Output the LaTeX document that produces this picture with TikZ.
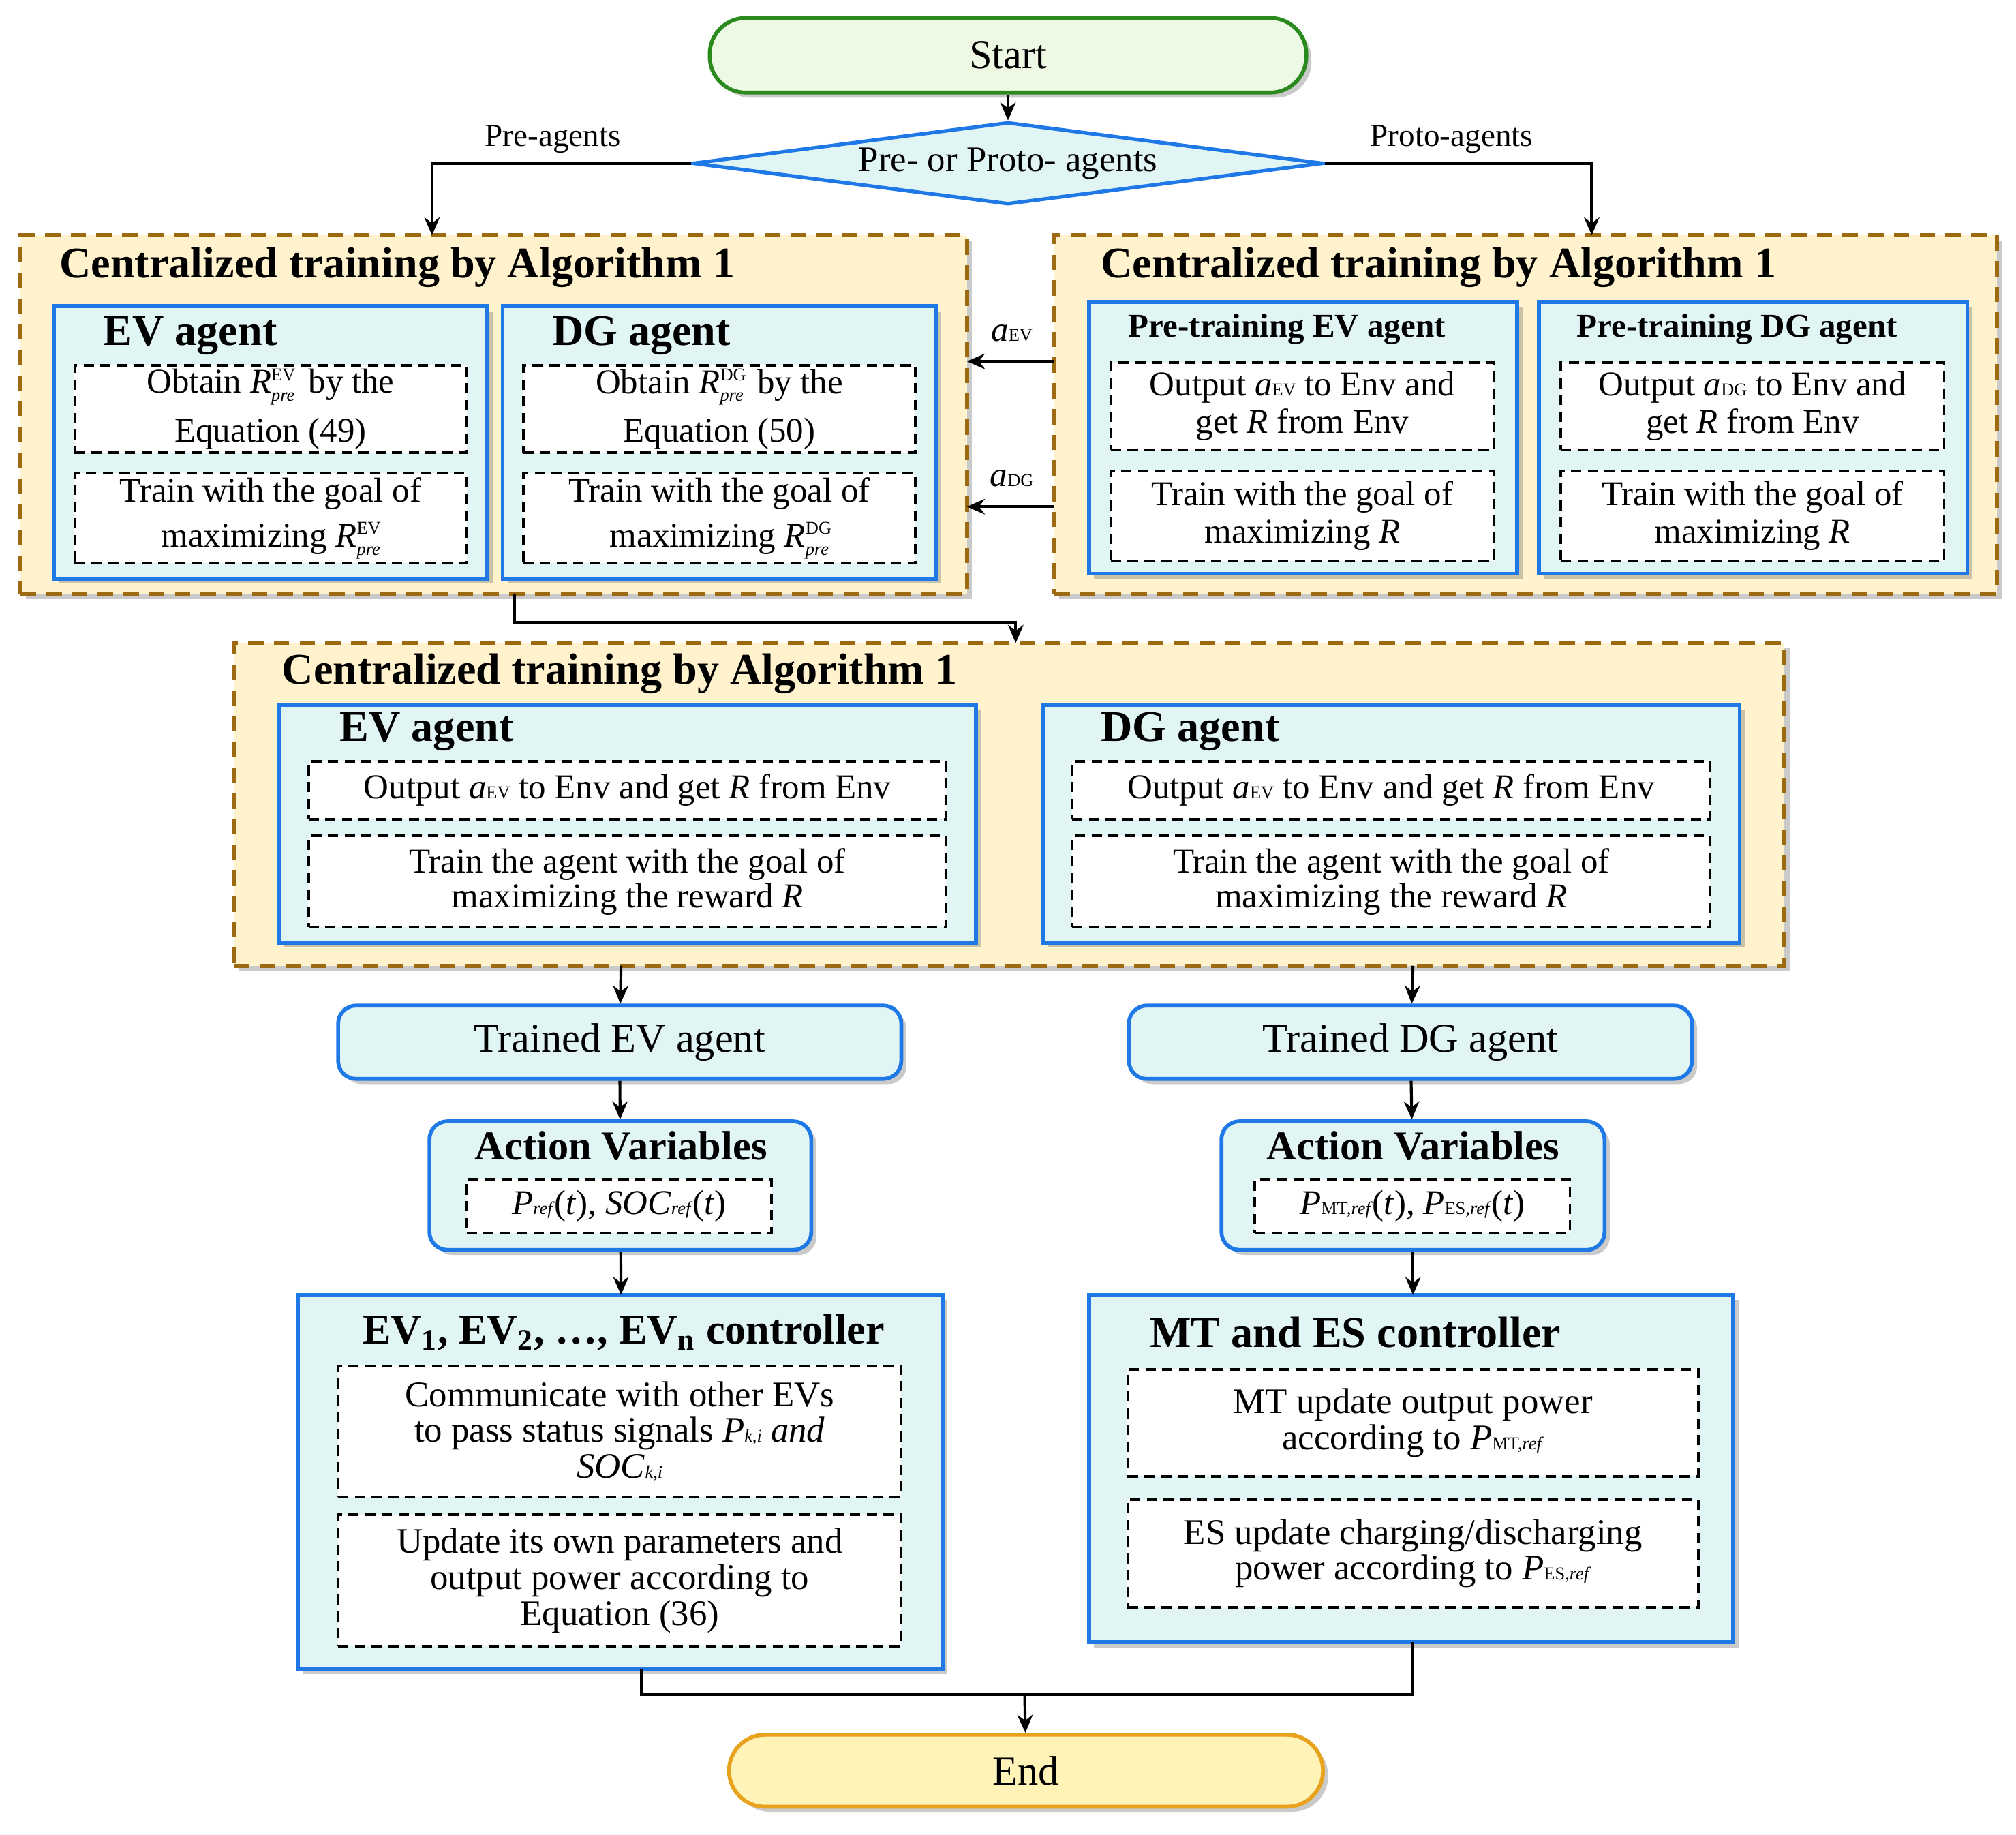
\documentclass[tikz,border=0pt]{standalone}
\usepackage{fontspec}
\setmainfont{Liberation Serif}
\usetikzlibrary{shapes.geometric,fit,shadows,arrows.meta}
\definecolor{brn}{HTML}{9C6A10}
\definecolor{orgf}{HTML}{FFF2CC}
\definecolor{blu}{HTML}{1E78E6}
\definecolor{bluf}{HTML}{E2F5F5}
\definecolor{grn}{HTML}{2A8A1E}
\definecolor{grnf}{HTML}{EEF9E4}
\definecolor{endb}{HTML}{E8A21E}
\definecolor{endf}{HTML}{FFF3B8}
\newcommand{\fs}[1]{\fontsize{#1}{#1}\selectfont}
\newcommand{\sub}[1]{{\scriptsize #1}}
\newcommand{\Rp}[1]{\textit{R}\rlap{\raisebox{5pt}{\scriptsize #1}}\raisebox{-3pt}{\scriptsize\textit{pre}}\hspace{2pt}}
\tikzset{
 sh/.style={drop shadow={shadow xshift=2pt,shadow yshift=-2pt,opacity=0.35,fill=black!60}},
 grp/.style={draw=brn,fill=orgf,line width=1.6pt,dash pattern=on 6pt off 4pt,inner sep=0pt,sh},
 agt/.style={draw=blu,fill=bluf,line width=1.5pt,inner sep=0pt,sh},
 ragt/.style={agt,rounded corners=7pt},
 dsh/.style={draw=black,fill=white,line width=1pt,dash pattern=on 4pt off 2.5pt,inner sep=0pt},
 txt/.style={align=center,font=\fs{13.5},inner sep=0pt},
 ttl/.style={anchor=west,font=\fs{17}\bfseries,inner sep=0pt},
 arr/.style={line width=1.1pt,-{Stealth[length=7pt,width=6pt]}},
 ln/.style={line width=1.1pt}
}
\begin{document}
\begin{tikzpicture}[x=0.5pt,y=-0.5pt]
\useasboundingbox (0,0) rectangle (1568,1427);
% start / end
\node[draw=grn,fill=grnf,line width=1.5pt,rounded corners=14pt,minimum width=232pt,minimum height=29pt,font=\fs{16},sh] (start) at (784,43) {Start};
\node[diamond,aspect=7.6,draw=blu,fill=bluf,line width=1.4pt,inner sep=0pt,minimum width=245pt,minimum height=32pt,font=\fs{14}] (dia) at (784,127) {Pre- or Proto- agents};
\node[draw=endb,fill=endf,line width=1.5pt,rounded corners=14pt,minimum width=231pt,minimum height=28pt,font=\fs{16},sh] (end) at (798,1377) {End};
% groups
\node[grp,fit={(16,183)(752,462)}] (g1) {};
\node[grp,fit={(820,183)(1553,462)}] (g2) {};
\node[grp,fit={(182,500)(1388,751)}] (g3) {};
\node[ttl] (t1) at (46,208) {Centralized training by Algorithm 1};
\node[ttl] (t2) at (856,208) {Centralized training by Algorithm 1};
\node[ttl] (t3) at (219,524) {Centralized training by Algorithm 1};
% top left agents
\node[agt,fit={(42,238)(379,450)}] (a1) {};
\node[agt,fit={(391,238)(728,450)}] (a2) {};
\node[ttl] (a1t) at (80,261) {EV agent};
\node[ttl] (a2t) at (429,261) {DG agent};
\node[dsh,fit={(58,284)(363,352)}] (d11) {};
\node[dsh,fit={(58,368)(363,438)}] (d12) {};
\node[dsh,fit={(407,284)(712,352)}] (d21) {};
\node[dsh,fit={(407,368)(712,438)}] (d22) {};
\node[txt] at (d11) {Obtain \Rp{EV} by the\\[4pt]Equation (49)};
\node[txt] at (d12) {Train with the goal of\\[4pt]maximizing \Rp{EV}};
\node[txt] at (d21) {Obtain \Rp{DG} by the\\[4pt]Equation (50)};
\node[txt] at (d22) {Train with the goal of\\[4pt]maximizing \Rp{DG}};
% top right agents
\node[agt,fit={(847,235)(1180,446)}] (b1) {};
\node[agt,fit={(1197,235)(1530,446)}] (b2) {};
\node[txt,font=\fs{13}\bfseries] (b1t) at (1001,256) {Pre-training EV agent};
\node[txt,font=\fs{13}\bfseries] (b2t) at (1351,256) {Pre-training DG agent};
\node[dsh,fit={(864,282)(1162,350)}] (e11) {};
\node[dsh,fit={(864,366)(1162,436)}] (e12) {};
\node[dsh,fit={(1214,282)(1512,350)}] (e21) {};
\node[dsh,fit={(1214,366)(1512,436)}] (e22) {};
\node[txt] at (e11) {Output \textit{a}\sub{EV} to Env and\\[1pt]get \textit{R} from Env};
\node[txt] at (e12) {Train with the goal of\\[1pt]maximizing \textit{R}};
\node[txt] at (e21) {Output \textit{a}\sub{DG} to Env and\\[1pt]get \textit{R} from Env};
\node[txt] at (e22) {Train with the goal of\\[1pt]maximizing \textit{R}};
% middle agents
\node[agt,fit={(217,548)(759,733)}] (c1) {};
\node[agt,fit={(811,548)(1353,733)}] (c2) {};
\node[ttl] (c1t) at (264,569) {EV agent};
\node[ttl] (c2t) at (856,569) {DG agent};
\node[dsh,fit={(240,592)(736,637)}] (f11) {};
\node[dsh,fit={(240,650)(736,721)}] (f12) {};
\node[dsh,fit={(834,592)(1330,637)}] (f21) {};
\node[dsh,fit={(834,650)(1330,721)}] (f22) {};
\node[txt] at (f11) {Output \textit{a}\sub{EV} to Env and get \textit{R} from Env};
\node[txt] at (f12) {Train the agent with the goal of\\[0pt]maximizing the reward \textit{R}};
\node[txt] at (f21) {Output \textit{a}\sub{EV} to Env and get \textit{R} from Env};
\node[txt] at (f22) {Train the agent with the goal of\\[0pt]maximizing the reward \textit{R}};
% trained
\node[ragt,fit={(263,782)(701,839)}] (tr1) {};
\node[ragt,fit={(878,782)(1316,839)}] (tr2) {};
\node[txt,font=\fs{16}] at (tr1) {Trained EV agent};
\node[txt,font=\fs{16}] at (tr2) {Trained DG agent};
% action variables
\node[ragt,fit={(334,872)(631,972)}] (av1) {};
\node[ragt,fit={(950,872)(1248,972)}] (av2) {};
\node[txt,font=\fs{16}\bfseries] at (483,891) {Action Variables};
\node[txt,font=\fs{16}\bfseries] at (1099,891) {Action Variables};
\node[dsh,fit={(363,917)(600,959)}] (v1) {};
\node[dsh,fit={(976,917)(1221,959)}] (v2) {};
\node[txt] at (v1) {\textit{P}\sub{\textit{ref}}(\textit{t}), \textit{SOC}\sub{\textit{ref}}(\textit{t})};
\node[txt] at (v2) {\textit{P}\sub{MT,\textit{ref}}(\textit{t}), \textit{P}\sub{ES,\textit{ref}}(\textit{t})};
% controllers
\node[agt,fit={(232,1007)(733,1298)}] (k1) {};
\node[agt,fit={(847,1007)(1348,1277)}] (k2) {};
\node[txt,font=\fs{16.5}\bfseries] at (485,1036) {EV\textsubscript{1}, EV\textsubscript{2}, \dots, EV\textsubscript{n} controller};
\node[ttl] at (894,1036) {MT and ES controller};
\node[dsh,fit={(263,1062)(701,1164)}] (k11) {};
\node[dsh,fit={(263,1178)(701,1280)}] (k12) {};
\node[dsh,fit={(877,1065)(1321,1148)}] (k21) {};
\node[dsh,fit={(877,1166)(1321,1250)}] (k22) {};
\node[txt,font=\fs{14}] at (k11) {Communicate with other EVs\\to pass status signals \textit{P}\sub{\textit{k,i}} \textit{and}\\\textit{SOC}\sub{\textit{k,i}}};
\node[txt,font=\fs{14}] at (k12) {Update its own parameters and\\output power according to\\Equation (36)};
\node[txt,font=\fs{14}] at (k21) {MT update output power\\according to \textit{P}\sub{MT,\textit{ref}}};
\node[txt,font=\fs{14}] at (k22) {ES update charging/discharging\\power according to \textit{P}\sub{ES,\textit{ref}}};
% connectors
\coordinate (lc) at (336,127);
\coordinate (rc) at (1238,127);
\draw[arr] (start) -- (dia);
\draw[arr] (dia.west) -- (lc) -- (336,183);
\draw[arr] (dia.east) -- (rc) -- (1238,183);
\node[txt,font=\fs{12.5}] (pl) at (430,108) {Pre-agents};
\node[txt,font=\fs{12.5}] (pr) at (1129,108) {Proto-agents};
\coordinate (ae1) at (820,281); \coordinate (ae2) at (752,281);
\coordinate (ad1) at (820,394); \coordinate (ad2) at (752,394);
\draw[arr] (ae1) -- (ae2);
\draw[arr] (ad1) -- (ad2);
\node[txt] at (787,259) {\textit{a}\sub{EV}};
\node[txt] at (787,372) {\textit{a}\sub{DG}};
\coordinate (m1) at (400,462); \coordinate (m2) at (400,484); \coordinate (m3) at (790,484);
\draw[arr] (m1) -- (m2) -- (m3) -- (790,500);
\draw[arr] (483,751) -- (tr1);
\draw[arr] (1099,751) -- (tr2);
\draw[arr] (tr1) -- (av1);
\draw[arr] (tr2) -- (av2);
\draw[arr] (av1) -- (483,1007);
\draw[arr] (av2) -- (1099,1007);
\coordinate (j) at (797,1318);
\draw[ln] (499,1298) -- (499,1318) -- (1099,1318) -- (1099,1277);
\draw[arr] (j) -- (end);
\end{tikzpicture}
\end{document}
